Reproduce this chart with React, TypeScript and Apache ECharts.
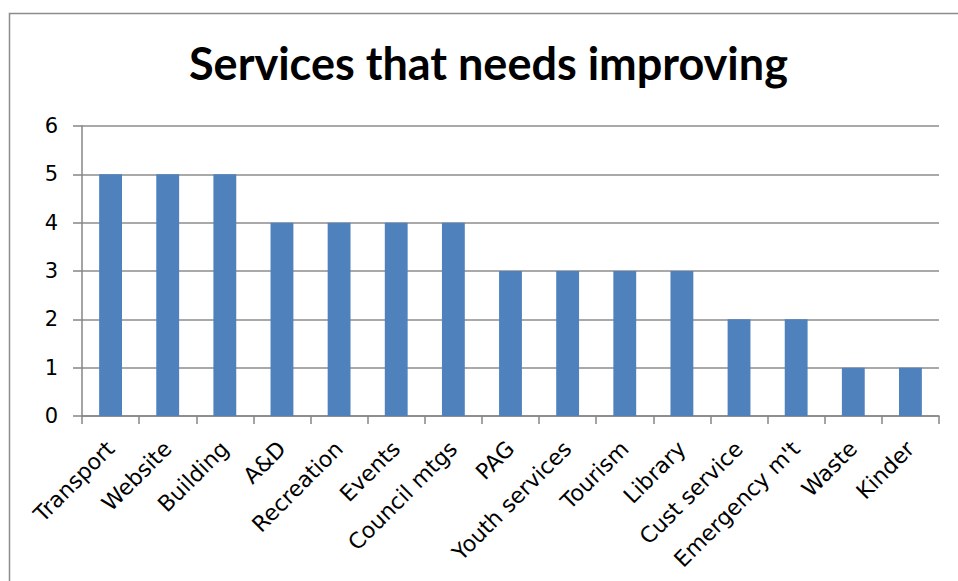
import React, { useEffect, useRef } from "react";
import * as echarts from "echarts";

const categories = [
  "Transport", "Website", "Building", "A&D", "Recreation", "Events", "Council mtgs",
  "PAG", "Youth services", "Tourism", "Library", "Cust service", "Emergency m't", "Waste", "Kinder",
];
const counts = [5, 5, 5, 4, 4, 4, 4, 3, 3, 3, 3, 2, 2, 1, 1];
const yTicks = { min: 0, max: 6, interval: 1 };
const titleText = "Services that needs improving";

const TITLE_FONT = "Lato, 'Open Sans', sans-serif";
const LABEL_FONT = "'DejaVu Sans', 'Open Sans', sans-serif";

export default function App() {
  const ref = useRef<HTMLDivElement>(null);
  useEffect(() => {
    if (!ref.current) return;
    const chart = echarts.init(ref.current, null, { renderer: "svg" });
    chart.setOption({
      animation: false,
      backgroundColor: "#ffffff",
      title: {
        text: titleText,
        left: 184,
        top: 35,
        textStyle: { fontFamily: TITLE_FONT, fontWeight: "bold", fontSize: 45, color: "#000000" },
      },
      graphic: [
        {
          type: "rect",
          shape: { x: 9.5, y: 13.5, width: 1000, height: 700 },
          style: { fill: "none", stroke: "#8c8c8c", lineWidth: 1.5 },
          silent: true,
        },
      ],
      grid: { left: 82, right: 19, top: 126, bottom: 165, containLabel: false },
      xAxis: {
        type: "category",
        data: categories,
        axisLine: { show: true, lineStyle: { color: "#868686", width: 1.5 } },
        axisTick: { show: true, length: 8, alignWithLabel: false, lineStyle: { color: "#868686", width: 1.5 } },
        axisLabel: {
          rotate: 45,
          interval: 0,
          margin: 29,
          fontFamily: LABEL_FONT,
          fontSize: 22,
          color: "#000000",
        },
      },
      yAxis: {
        type: "value",
        min: yTicks.min,
        max: yTicks.max,
        interval: yTicks.interval,
        axisLine: { show: true, lineStyle: { color: "#868686", width: 1.5 } },
        axisTick: { show: true, length: 9, lineStyle: { color: "#868686", width: 1.5 } },
        axisLabel: { margin: 24, fontFamily: LABEL_FONT, fontSize: 21, color: "#000000" },
        splitLine: { show: true, lineStyle: { color: "#8c8c8c", width: 1.5 } },
      },
      series: [
        {
          type: "bar",
          data: counts,
          barWidth: "40%",
          itemStyle: { color: "#4f81bd" },
        },
      ],
    });
    return () => chart.dispose();
  }, []);
  return <div ref={ref} style={{ width: 958, height: 581, position: "absolute", left: 0, top: 0 }} />;
}
